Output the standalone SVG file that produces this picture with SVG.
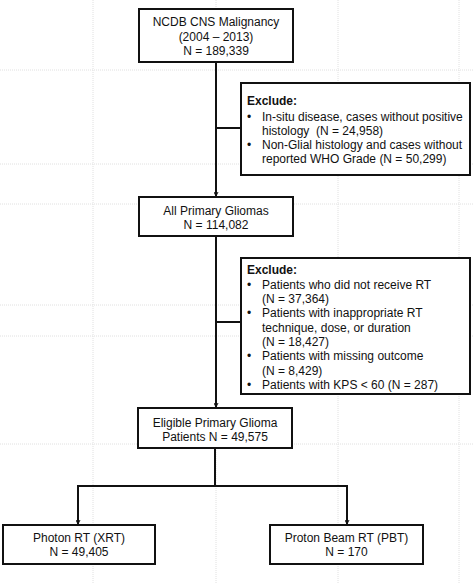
<svg xmlns="http://www.w3.org/2000/svg" width="474" height="583" viewBox="0 0 474 583">
<style>
  .grid { stroke: #e0e0e0; stroke-width: 1; stroke-dasharray: 1 1; fill: none; }
  .box { fill: #ffffff; stroke: #111111; stroke-width: 2; }
  .conn { fill: none; stroke: #111111; stroke-width: 2; }
  text { font-family: "Liberation Sans", Arial, sans-serif; font-size: 12px; fill: #111111; }
  .c { text-anchor: middle; }
  .b { font-weight: bold; }
</style>
<defs>
  <marker id="arr" viewBox="0 0 10 10" refX="9" refY="5" markerWidth="5" markerHeight="5" orient="auto" markerUnits="userSpaceOnUse">
    <path d="M1,1 L9,5 L1,9" fill="none" stroke="#111111" stroke-width="2"/>
  </marker>
</defs>
<rect width="474" height="583" fill="#ffffff"/>
<g id="grid">
  <line class="grid" x1="93" y1="0" x2="93" y2="583"/>
  <line class="grid" x1="216" y1="0" x2="216" y2="583"/>
  <line class="grid" x1="338" y1="0" x2="338" y2="583"/>
  <line class="grid" x1="459" y1="0" x2="459" y2="583"/>
  <line class="grid" x1="0" y1="70" x2="474" y2="70"/>
  <line class="grid" x1="0" y1="164" x2="474" y2="164"/>
  <line class="grid" x1="0" y1="204" x2="474" y2="204"/>
  <line class="grid" x1="0" y1="305" x2="474" y2="305"/>
  <line class="grid" x1="0" y1="336" x2="474" y2="336"/>
  <line class="grid" x1="0" y1="444" x2="474" y2="444"/>
</g>
<g id="connectors">
  <line class="conn" x1="216" y1="62" x2="216" y2="196" marker-end="url(#arr)"/>
  <line class="conn" x1="216" y1="128" x2="241" y2="128"/>
  <line class="conn" x1="216" y1="236" x2="216" y2="407" marker-end="url(#arr)"/>
  <line class="conn" x1="216" y1="322" x2="241" y2="322"/>
  <line class="conn" x1="215" y1="448" x2="215" y2="486"/>
  <polyline class="conn" points="78,524 78,486 347,486 347,524"/>
  <line class="conn" x1="78" y1="500" x2="78" y2="524" marker-end="url(#arr)"/>
  <line class="conn" x1="347" y1="500" x2="347" y2="524" marker-end="url(#arr)"/>
</g>
<g id="ncdb">
  <rect class="box" x="139" y="9" width="154" height="53"/>
  <text class="c" x="216" y="26">NCDB CNS Malignancy</text>
  <text class="c" x="216" y="40.5">(2004 – 2013)</text>
  <text class="c" x="216" y="55">N = 189,339</text>
</g>
<g id="exclude1">
  <rect class="box" x="241" y="83" width="229" height="92"/>
  <text class="b" x="247" y="104.5">Exclude:</text>
  <text x="247" y="120.5">•</text>
  <text x="262" y="120.5">In-situ disease, cases without positive</text>
  <text x="262" y="134.5">histology &#160;(N = 24,958)</text>
  <text x="247" y="148.5">•</text>
  <text x="262" y="148.5">Non-Glial histology and cases without</text>
  <text x="262" y="162.5">reported WHO Grade (N = 50,299)</text>
</g>
<g id="gliomas">
  <rect class="box" x="139" y="197" width="154" height="39"/>
  <text class="c" x="216" y="214.5">All Primary Gliomas</text>
  <text class="c" x="216" y="228.5">N = 114,082</text>
</g>
<g id="exclude2">
  <rect class="box" x="241" y="258" width="229" height="136"/>
  <text class="b" x="247" y="273.5">Exclude:</text>
  <text x="247" y="288.5">•</text>
  <text x="262" y="288.5">Patients who did not receive RT</text>
  <text x="262" y="302.5">(N = 37,364)</text>
  <text x="247" y="317">•</text>
  <text x="262" y="317">Patients with inappropriate RT</text>
  <text x="262" y="331.5">technique, dose, or duration</text>
  <text x="262" y="345.5">(N = 18,427)</text>
  <text x="247" y="360">•</text>
  <text x="262" y="360">Patients with missing outcome</text>
  <text x="262" y="374.5">(N = 8,429)</text>
  <text x="247" y="388.5">•</text>
  <text x="262" y="388.5">Patients with KPS &lt; 60 (N = 287)</text>
</g>
<g id="eligible">
  <rect class="box" x="138" y="408" width="154" height="40"/>
  <text class="c" x="215" y="426.5">Eligible Primary Glioma</text>
  <text class="c" x="215" y="440.5">Patients N = 49,575</text>
</g>
<g id="photon">
  <rect class="box" x="3" y="525" width="152" height="39"/>
  <text class="c" x="79" y="541.5">Photon RT (XRT)</text>
  <text class="c" x="79" y="556">N = 49,405</text>
</g>
<g id="proton">
  <rect class="box" x="270" y="525" width="153" height="39"/>
  <text class="c" x="346.5" y="541.5">Proton Beam RT (PBT)</text>
  <text class="c" x="346.5" y="556">N = 170</text>
</g>
</svg>
